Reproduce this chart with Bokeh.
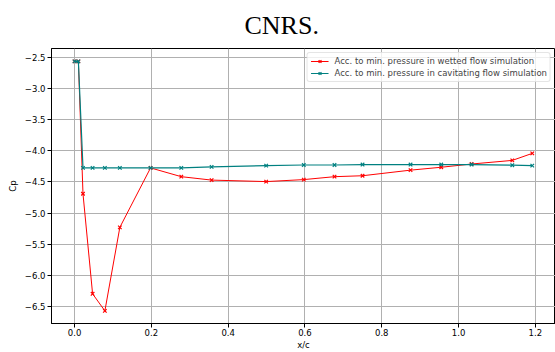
from bokeh.plotting import figure
from bokeh.models import Range1d, SingleIntervalTicker, CustomJSTickFormatter, Legend, LegendItem
from bokeh.embed import file_html
from bokeh.resources import INLINE

# data
x_c = [0.0, 0.01, 0.022, 0.047, 0.079, 0.118, 0.198, 0.278, 0.357, 0.499, 0.597, 0.677, 0.75, 0.875, 0.955, 1.034, 1.14, 1.192]
cp_wetted = [-2.56, -2.56, -4.69, -6.30, -6.575, -5.23, -4.274, -4.415, -4.47, -4.494, -4.462, -4.415, -4.40, -4.31, -4.263, -4.211, -4.153, -4.04]
cp_cavitating = [-2.56, -2.56, -4.274, -4.274, -4.274, -4.274, -4.274, -4.274, -4.258, -4.237, -4.227, -4.227, -4.22, -4.22, -4.22, -4.22, -4.23, -4.237]
label_wetted = "Acc. to min. pressure in wetted flow simulation"
label_cavitating = "Acc. to min. pressure in cavitating flow simulation"

p = figure(width=555, height=352, output_backend="svg", toolbar_location=None,
           x_range=Range1d(-0.06, 1.2525), y_range=Range1d(-6.778, -2.352),
           min_border_left=51, min_border_right=0, min_border_top=43, min_border_bottom=27,
           title="CNRS.")
p.title.text_font = "Liberation Serif"
p.title.text_font_size = "26px"
p.title.text_font_style = "normal"
p.title.text_color = "black"
p.title.text_line_height = 0.8
p.title.align = "left"
p.title.offset = 193
p.title.standoff = 17

p.outline_line_color = "black"
p.outline_line_width = 1
p.background_fill_color = "white"
p.border_fill_color = "white"

fmt = CustomJSTickFormatter(code="return tick.toFixed(1).replace('-', '\u2212');")
p.xaxis.ticker = SingleIntervalTicker(interval=0.2, num_minor_ticks=0)
p.yaxis.ticker = SingleIntervalTicker(interval=0.5, num_minor_ticks=0)
for ax in (p.xaxis[0], p.yaxis[0]):
    ax.formatter = fmt
    ax.major_label_text_font = "DejaVu Sans"
    ax.major_label_text_font_size = "8.5px"
    ax.major_label_text_color = "black"
    ax.major_label_text_line_height = 1.0
    ax.axis_label_text_font = "DejaVu Sans"
    ax.axis_label_text_font_size = "8.5px"
    ax.axis_label_text_font_style = "normal"
    ax.axis_label_text_color = "black"
    ax.axis_label_text_line_height = 1.0
    ax.axis_line_color = "black"
    ax.major_tick_line_color = "black"
    ax.major_tick_in = 0
    ax.major_tick_out = 4
    ax.minor_tick_line_color = None
p.xaxis.axis_label = "x/c"
p.yaxis.axis_label = "Cp"
p.xaxis.major_label_standoff = 1
p.xaxis.axis_label_standoff = 1
p.yaxis.major_label_standoff = 2
p.yaxis.axis_label_standoff = 4

p.grid.grid_line_color = "#b0b0b0"
p.grid.grid_line_width = 1

r1 = p.line(x_c, cp_wetted, line_color="red", line_width=1)
m1 = p.scatter(x_c, cp_wetted, marker="x", size=5, line_color="red", line_width=1.2)
r2 = p.line(x_c, cp_cavitating, line_color="#008080", line_width=1.2)
m2 = p.scatter(x_c, cp_cavitating, marker="x", size=5, line_color="#008080", line_width=1.2)

legend = Legend(items=[LegendItem(label=label_wetted, renderers=[r1, m1]),
                       LegendItem(label=label_cavitating, renderers=[r2, m2])],
                location="top_right")
legend.label_text_font = "DejaVu Sans"
legend.label_text_font_size = "8.5px"
legend.label_height = 10
legend.glyph_height = 10
legend.glyph_width = 18
legend.label_standoff = 6
legend.spacing = 2
legend.padding = 3
legend.margin = 4
legend.border_line_color = "#cccccc"
legend.border_radius = 3
legend.background_fill_alpha = 0.8
p.add_layout(legend)

open("out.html", "w").write(file_html(p, INLINE))
